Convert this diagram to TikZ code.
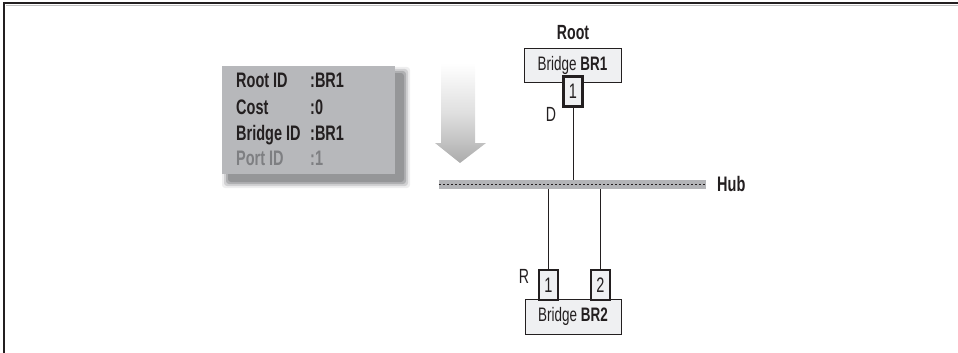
\documentclass[tikz,border=0pt]{standalone}
\usepackage{fontspec}
\setmainfont{Liberation Sans}[FakeStretch=0.69]
\usetikzlibrary{positioning}
\definecolor{boxgray}{HTML}{B7B8BB}
\definecolor{shadowgray}{HTML}{8E8F92}
\definecolor{bridgefill}{HTML}{EFF0F2}
\definecolor{hubgray}{HTML}{B3B4B7}
\definecolor{portidgray}{HTML}{7E7F82}
\definecolor{ink}{HTML}{231F20}
\tikzset{
  bridgebox/.style={draw=ink, line width=0.9pt, fill=bridgefill, minimum width=97pt, minimum height=34pt, inner sep=0pt, font=\fontsize{19.5}{21}\selectfont, text=ink},
  portbox/.style={draw=ink, line width=2.4pt, fill=bridgefill, minimum width=19pt, minimum height=30pt, inner sep=0pt, font=\fontsize{21}{23}\selectfont, text=ink},
  infotext/.style={anchor=base west, inner sep=0pt, font=\bfseries\fontsize{21}{23}\selectfont, text=ink},
  lbl/.style={inner sep=0pt, anchor=base, font=\fontsize{20.5}{22}\selectfont, text=ink},
  link/.style={draw=ink, line width=0.9pt}
}
\begin{document}
\begin{tikzpicture}[x=1pt, y=-1pt]
\useasboundingbox (0,0) rectangle (958,353);
% frame
\draw[ink, line width=2pt] (4,353) -- (4,3) -- (958,3);
\draw[gray!50, line width=0.8pt] (6,5.6) -- (958,5.6);
% shadow of info box
\foreach \d/\o in {6/0.15,4/0.3,2/0.5,0/0.8}{
  \fill[shadowgray, opacity=\o, rounded corners=3pt] (228-\d,73-\d) rectangle (410+\d-6,188+\d-6);
}
% info box
\node[fill=boxgray, minimum width=173pt, minimum height=108pt, inner sep=0pt] (info) at (308.5,120) {};
\node[infotext] (l1) at (236,88) {Root ID};
\node[infotext] (v1) at (310,88) {:BR1};
\node[infotext] (l2) at (236,114) {Cost};
\node[infotext] (v2) at (310,114) {:0};
\node[infotext] (l3) at (236,140) {Bridge ID};
\node[infotext] (v3) at (310,140) {:BR1};
\node[infotext, text=portidgray] (l4) at (236,165) {Port ID};
\node[infotext, text=portidgray] (v4) at (310,165) {:1};
% arrow
\shade[top color=white, bottom color=gray!65, middle color=gray!25]
  (441,63) -- (475,63) -- (475,143) -- (486,143) -- (460,163) -- (435,143) -- (441,143) -- cycle;
% hub
\node[fill=hubgray, minimum width=267pt, minimum height=9pt, inner sep=0pt] (hub) at (572.5,184.5) {};
\draw[ink, line width=0.9pt, dash pattern=on 2.2pt off 1.8pt] (hub.west) -- (hub.east);
\node[lbl, font=\bfseries\fontsize{21}{23}\selectfont, anchor=base west] (hublbl) at (717,191) {Hub};
% bridge 1
\node[lbl, font=\bfseries\fontsize{20.5}{22}\selectfont] (root) at (573,40) {Root};
\node[bridgebox] (br1) at (572.5,65) {Bridge \textbf{BR1}};
\node[portbox] (p11) at (573,91.5) {1};
\node[lbl] (d) at (551,121) {D};
\draw[link] (p11.south) -- (p11.south |- hub.north);
% bridge 2
\node[bridgebox, minimum width=96pt, minimum height=35pt] (br2) at (573,316.5) {Bridge \textbf{BR2}};
\node[portbox] (p21) at (548.5,285) {1};
\node[portbox] (p22) at (600.5,285) {2};
\node[lbl] (r) at (524,283) {R};
\draw[link] (p21.north) -- (p21.north |- hub.south);
\draw[link] (p22.north) -- (p22.north |- hub.south);
\end{tikzpicture}
\end{document}
